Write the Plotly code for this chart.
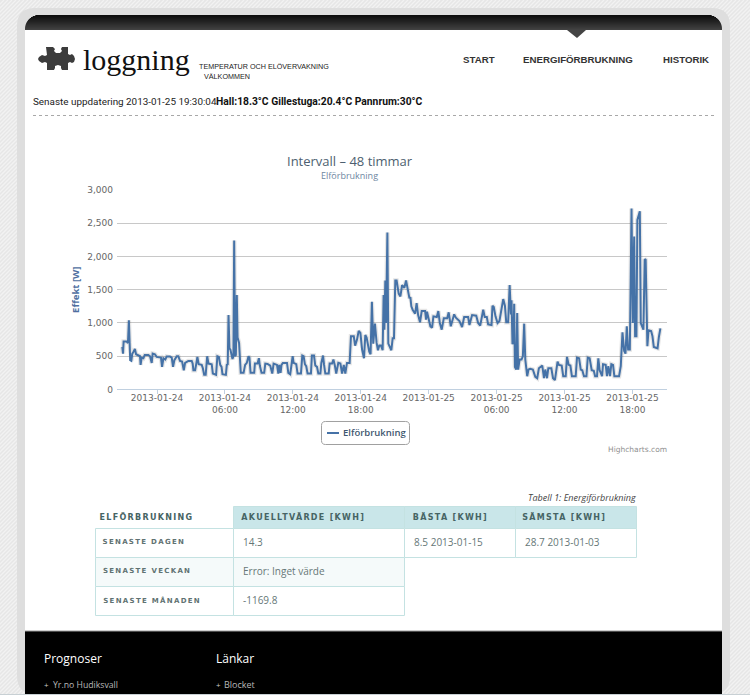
"""
plot.py

Rebuilds the "loggning" energy page: a 48 hour power chart on a page
with header, status line, table and footer drawn around it.
"""

import pandas as pd
import plotly.graph_objects as go

# minutes after 2013-01-23 20:00
MINUTES = [
    56, 60, 63, 79, 86, 91, 95, 98, 104, 109, 114, 123, 129, 141, 150, 153, 159, 168, 175, 194,
    203, 212, 217, 229, 238, 261, 267, 274, 284, 291, 309, 318, 325, 332, 345, 353, 362, 373, 382, 389,
    406, 424, 429, 433, 442, 449, 454, 461, 477, 483, 490, 498, 506, 513, 530, 536, 553, 560, 568, 575,
    582, 587, 605, 610, 615, 619, 624, 629, 635, 640, 645, 649, 654, 658, 663, 667, 675, 679, 684, 699,
    707, 716, 725, 730, 736, 755, 759, 773, 780, 785, 794, 808, 814, 826, 840, 851, 858, 876, 883, 888,
    895, 900, 907, 929, 936, 946, 952, 959, 964, 978, 985, 1003, 1010, 1017, 1024, 1031, 1038, 1056, 1061, 1072,
    1079, 1088, 1095, 1106, 1111, 1120, 1125, 1132, 1150, 1155, 1168, 1175, 1182, 1190, 1201, 1212, 1221, 1230, 1238, 1247,
    1261, 1265, 1268, 1283, 1290, 1300, 1309, 1318, 1327, 1337, 1344, 1351, 1365, 1372, 1379, 1386, 1395, 1404, 1411, 1418,
    1427, 1436, 1441, 1445, 1450, 1454, 1461, 1466, 1475, 1482, 1489, 1496, 1503, 1510, 1521, 1530, 1539, 1551, 1560, 1570,
    1578, 1583, 1588, 1595, 1608, 1616, 1624, 1634, 1643, 1661, 1666, 1671, 1680, 1689, 1698, 1705, 1723, 1731, 1739, 1749,
    1760, 1778, 1786, 1797, 1815, 1824, 1843, 1857, 1868, 1889, 1896, 1910, 1932, 1942, 1953, 1960, 1969, 1977, 1988, 1995,
    2013, 2018, 2025, 2034, 2045, 2055, 2066, 2075, 2084, 2091, 2101, 2109, 2116, 2119, 2124, 2130, 2133, 2137, 2144, 2149,
    2154, 2162, 2172, 2179, 2186, 2192, 2202, 2209, 2218, 2232, 2245, 2255, 2264, 2282, 2291, 2298, 2307, 2314, 2330, 2339,
    2349, 2356, 2363, 2370, 2385, 2393, 2406, 2413, 2422, 2431, 2439, 2459, 2466, 2477, 2486, 2494, 2503, 2516, 2523, 2533,
    2544, 2555, 2562, 2572, 2579, 2586, 2599, 2604, 2618, 2625, 2632, 2641, 2648, 2657, 2664, 2678, 2689, 2698, 2707, 2716,
    2723, 2730, 2737, 2746, 2755, 2762, 2769, 2774, 2781, 2786, 2799, 2804, 2813, 2818, 2825, 2830, 2839, 2845, 2859, 2866,
    2873, 2887, 2893, 2900, 2908,
]

WATTS = [
    640, 540, 720, 720, 700, 1040, 700, 440, 430, 540, 560, 610, 530, 510, 500, 370, 480, 470, 520, 520,
    500, 400, 540, 530, 490, 480, 340, 470, 450, 495, 495, 480, 340, 440, 500, 500, 430, 420, 290, 400,
    430, 430, 390, 290, 290, 400, 490, 380, 370, 320, 220, 220, 500, 390, 380, 240, 220, 500, 490, 370,
    340, 230, 220, 370, 380, 1120, 620, 600, 480, 460, 500, 2240, 500, 520, 1420, 780, 700, 340, 250, 250,
    370, 400, 500, 480, 250, 250, 390, 390, 470, 360, 250, 250, 390, 385, 360, 240, 390, 370, 240, 370,
    250, 370, 400, 400, 250, 230, 390, 500, 400, 380, 240, 240, 510, 500, 380, 350, 240, 240, 510, 510,
    360, 340, 240, 240, 400, 510, 380, 240, 240, 390, 390, 450, 370, 240, 400, 390, 240, 370, 240, 400,
    400, 600, 800, 800, 660, 750, 880, 850, 600, 470, 820, 780, 570, 530, 1320, 690, 990, 700, 590, 660,
    660, 590, 1420, 900, 1640, 1000, 2360, 690, 630, 590, 770, 770, 1640, 1640, 1440, 1400, 1570, 1530, 1640, 1450,
    1370, 1390, 1250, 1200, 1140, 1300, 1120, 1010, 1180, 1180, 1050, 1170, 1050, 950, 930, 1100, 1090, 1180, 1000, 900,
    1070, 1070, 1160, 950, 1130, 1080, 1030, 940, 1090, 1090, 970, 1120, 1110, 1000, 960, 1100, 1200, 1090, 1090, 980,
    970, 1260, 1240, 1100, 1000, 1030, 1200, 1360, 1260, 1010, 1010, 1570, 1130, 1340, 680, 820, 1290, 340, 300, 1150,
    300, 450, 450, 500, 990, 450, 200, 300, 310, 300, 190, 170, 320, 360, 170, 300, 170, 320, 320, 170,
    140, 280, 420, 370, 360, 200, 200, 490, 370, 360, 200, 200, 480, 470, 300, 290, 200, 200, 480, 470,
    290, 280, 200, 200, 470, 290, 200, 380, 370, 200, 350, 200, 380, 370, 200, 200, 200, 350, 860, 580,
    540, 950, 600, 600, 2720, 1000, 2300, 800, 800, 2550, 2680, 1000, 950, 900, 1960, 1950, 650, 890, 880, 800,
    640, 620, 620, 790, 920,
]

X_TICKS = [
    "2013-01-24 00:00", "2013-01-24 06:00", "2013-01-24 12:00", "2013-01-24 18:00",
    "2013-01-25 00:00", "2013-01-25 06:00", "2013-01-25 12:00", "2013-01-25 18:00",
]
X_TICK_LABELS = [
    "2013-01-24", "2013-01-24<br>06:00", "2013-01-24<br>12:00", "2013-01-24<br>18:00",
    "2013-01-25", "2013-01-25<br>06:00", "2013-01-25<br>12:00", "2013-01-25<br>18:00",
]
Y_TICKS = [0, 500, 1000, 1500, 2000, 2500, 3000]

TABLE_HEADERS = ["ELFÖRBRUKNING", "AKUELLTVÄRDE [KWH]", "BÄSTA [KWH]", "SÄMSTA [KWH]"]
ROW_LABELS = ["SENASTE DAGEN", "SENASTE VECKAN", "SENASTE MÅNADEN"]
CURRENT_VALUES = ["14.3", "Error: Inget värde", "-1169.8"]
BEST_VALUES = ["8.5 2013-01-15"]
WORST_VALUES = ["28.7 2013-01-03"]

LINE_COLOR = "#4572A7"
TEXT_FONT = "Open Sans"
CHART_FONT = "DejaVu Sans"
WIDTH = 750
HEIGHT = 695


def px(x):
    return round(x / WIDTH, 5)


def py(y):
    return round(1 - y / HEIGHT, 5)


def rect(x0, y0, x1, y1, fill, line=None):
    return dict(
        type="rect", xref="paper", yref="paper", layer="below",
        x0=px(x0), x1=px(x1), y0=py(y0), y1=py(y1),
        fillcolor=fill, line=dict(color=line or fill, width=1 if line else 0),
    )


def hline(x0, x1, y, color, width=1, dash="solid"):
    return dict(
        type="line", xref="paper", yref="paper", layer="below",
        x0=px(x0), x1=px(x1), y0=py(y), y1=py(y),
        line=dict(color=color, width=width, dash=dash),
    )


def polygon(points, fill):
    path = "M" + " L".join(f"{px(x)} {py(y)}" for x, y in points) + " Z"
    return dict(
        type="path", xref="paper", yref="paper", layer="below", path=path,
        fillcolor=fill, line=dict(width=0),
    )


def rounded(x0, y0, x1, y1, r, fill, line=None):
    path = (
        f"M{px(x0 + r)} {py(y0)} L{px(x1 - r)} {py(y0)} Q{px(x1)} {py(y0)} {px(x1)} {py(y0 + r)} "
        f"L{px(x1)} {py(y1 - r)} Q{px(x1)} {py(y1)} {px(x1 - r)} {py(y1)} "
        f"L{px(x0 + r)} {py(y1)} Q{px(x0)} {py(y1)} {px(x0)} {py(y1 - r)} "
        f"L{px(x0)} {py(y0 + r)} Q{px(x0)} {py(y0)} {px(x0 + r)} {py(y0)} Z"
    )
    return dict(
        type="path", xref="paper", yref="paper", layer="below", path=path,
        fillcolor=fill, line=dict(color=line or fill, width=1 if line else 0),
    )


def label(x, y, text, size, color="#444444", family=TEXT_FONT, anchor="left", **font):
    return dict(
        x=px(x), y=py(y), xref="paper", yref="paper", text=text, showarrow=False,
        xanchor=anchor, yanchor="middle", borderpad=0, borderwidth=0,
        font=dict(size=size, color=color, family=family, **font),
    )


def page_shapes():
    hatch = "".join(
        f"M{px(c)} {py(HEIGHT)} L{px(c + HEIGHT)} {py(0)} " for c in range(-HEIGHT, WIDTH, 4)
    )
    shapes = [
        dict(type="path", xref="paper", yref="paper", layer="below", path=hatch,
             line=dict(color="#f2f2f2", width=1.3)),
        rounded(17, 8, 730, 694, 18, "#dedede"),
        rect(25, 28, 722, 631, "#ffffff"),
    ]

    # header bar, one row per pixel so the gradient follows the round corners
    r = 14
    for row in range(15):
        dy = r - min(row + 0.5, r)
        inset = r - (r * r - dy * dy) ** 0.5
        shade = 12 + int(row * 3.8)
        color = f"rgb({shade},{shade},{shade})"
        shapes.append(hline(25 + inset, 722 - inset, 15.5 + row, color, 1.2))
    shapes.append(polygon([(567, 30), (586, 30), (577, 38)], "#444444"))

    shapes.append(polygon(
        [(46, 47), (53, 47), (55, 49), (54, 51), (56, 53), (60, 53), (62, 51), (61, 49), (62, 47),
         (68, 47), (68, 54), (70, 55), (72, 54), (74, 56), (75, 59), (74, 62), (72, 63), (70, 62),
         (68, 63), (68, 70), (62, 70), (61, 68), (61, 66), (58, 65), (55, 66), (55, 68), (54, 70),
         (47, 70), (47, 63), (45, 62), (42, 63), (39, 61), (38, 59), (39, 57), (42, 55), (45, 56),
         (47, 55)],
        "#3c3c3c",
    ))

    shapes.append(hline(33, 714, 115.5, "#a8a8a8", 1, "dot"))

    # legend box
    shapes.append(rounded(321.5, 421.5, 409.5, 444.5, 4, "#ffffff", "#a0a0a0"))
    shapes.append(hline(327, 339, 433, LINE_COLOR, 2))

    # table cells, half pixel edges keep the borders one pixel wide
    col_edges = [95.5, 233.5, 404.5, 515.5, 636.5]
    row_edges = [506.5, 528.5, 557.5, 586.5, 615.5]
    border = "#c4e2e2"
    for col in (1, 2, 3):
        shapes.append(rect(col_edges[col], row_edges[0], col_edges[col + 1], row_edges[1], "#c9e6e9", border))
    for row in (1, 2, 3):
        fill = "#f5fafa" if row == 2 else "#ffffff"
        last_col = 4 if row == 1 else 2
        for col in range(last_col):
            shapes.append(rect(col_edges[col], row_edges[row], col_edges[col + 1], row_edges[row + 1], fill, border))

    # footer
    shapes.append(rect(25, 631, 722, 694, "#000000"))
    shapes.append(hline(25, 722, 631, "#a0a0a0", 1))
    shapes.append(rect(0, 694, WIDTH, HEIGHT, "#c8d0d4"))
    return shapes


def page_labels():
    nav = dict(family="Liberation Sans", color="#333333", weight="bold")
    row_font = dict(family=CHART_FONT, color="#5f7272", weight="bold")
    head_font = dict(family=CHART_FONT, color="#466464", weight="bold")
    cell_font = dict(family=TEXT_FONT, color="#667777")
    head_centers = [146, 303, 450, 565]
    row_centers = [144, 147, 151.5]
    row_mid = [542, 571, 600]

    labels = [
        label(83, 60, "loggning", 30, color="#111111", family="Liberation Serif"),
        label(199, 67, "TEMPERATUR OCH ELÖVERVAKNING", 7.2, color="#222222", family="Liberation Sans"),
        label(204, 77, "VÄLKOMMEN", 7.2, color="#222222", family="Liberation Sans"),
        label(463, 60, "START", 9.7, **nav),
        label(523, 60, "ENERGIFÖRBRUKNING", 9.7, **nav),
        label(663, 60, "HISTORIK", 9.7, **nav),
        label(33, 102, "Senaste uppdatering 2013-01-25 19:30:04", 9.9, color="#222222", family="Roboto"),
        label(216, 102, "Hall:18.3°C Gillestuga:20.4°C Pannrum:30°C", 10.3, color="#111111", family="Roboto", weight="bold"),
        label(349.5, 161, "Intervall – 48 timmar", 13, color="#4d5f70", anchor="center"),
        label(349.5, 175, "Elförbrukning", 9, color="#6D869F", anchor="center"),
        label(343, 433, "Elförbrukning", 9.5, color="#3E576F", weight=600),
        label(667, 450, "Highcharts.com", 7.5, color="#909090", family=CHART_FONT, anchor="right"),
        label(636, 497, "Tabell 1: Energiförbrukning", 9, color="#444444", anchor="right", style="italic"),
        label(44, 659, "Prognoser", 12, color="#ffffff"),
        label(216, 659, "Länkar", 12, color="#ffffff"),
        label(44, 685, "+", 8, color="#cccccc"),
        label(53, 685, "Yr.no Hudiksvall", 8.7, color="#b8b8b8"),
        label(216, 685, "+", 8, color="#cccccc"),
        label(224, 685, "Blocket", 9, color="#b8b8b8"),
    ]
    for center, text in zip(head_centers, TABLE_HEADERS):
        labels.append(label(center, 517, text, 8, anchor="center", **head_font))
    for center, mid, text in zip(row_centers, row_mid, ROW_LABELS):
        labels.append(label(center, mid, text, 7, anchor="center", **row_font))
    for mid, text in zip(row_mid, CURRENT_VALUES):
        labels.append(label(243, mid, text, 10, **cell_font))
    labels.append(label(414, row_mid[0], BEST_VALUES[0], 10, **cell_font))
    labels.append(label(525, row_mid[0], WORST_VALUES[0], 10, **cell_font))
    return labels


times = pd.Timestamp("2013-01-23 20:00") + pd.to_timedelta(MINUTES, unit="min")

fig = go.Figure()
fig.add_trace(go.Scatter(
    x=times, y=WATTS, mode="lines", hoverinfo="skip", showlegend=False,
    line=dict(color="rgba(0,0,0,0.10)", width=4.5),
))
fig.add_trace(go.Scatter(
    x=times, y=WATTS, mode="lines", name="Elförbrukning", showlegend=False,
    line=dict(color=LINE_COLOR, width=2),
))

fig.update_xaxes(
    range=["2013-01-23 20:28", "2013-01-25 21:03"],
    domain=[px(117), px(667)],
    automargin=False,
    tickmode="array", tickvals=X_TICKS, ticktext=X_TICK_LABELS,
    ticks="outside", ticklen=4, tickcolor="#C0D0E0", ticklabelstandoff=-4,
    showline=True, linecolor="#C0D0E0", showgrid=False, zeroline=False,
    tickfont=dict(family=CHART_FONT, size=9, color="#666666"),
)
fig.update_yaxes(
    range=[0, 3000],
    domain=[py(389.5), py(190)],
    automargin=False,
    tickmode="array", tickvals=Y_TICKS, tickformat=",d", ticklabelstandoff=3,
    gridcolor="#C8C8C8", gridwidth=1, zeroline=False, showline=False,
    tickfont=dict(family=CHART_FONT, size=9, color="#666666"),
    title=dict(
        text="Effekt [W]", standoff=5,
        font=dict(family=TEXT_FONT, size=9.5, color="#4f6f9f", weight="bold"),
    ),
)

fig.update_layout(
    width=WIDTH,
    height=HEIGHT,
    margin=dict(l=0, r=0, t=0, b=0, autoexpand=False),
    paper_bgcolor="#e6e6e6",
    plot_bgcolor="rgba(0,0,0,0)",
    shapes=page_shapes(),
    annotations=page_labels(),
)

spaced = TABLE_HEADERS + ROW_LABELS
post_script = """
document.body.style.margin = '0';
var spaced = %s;
document.querySelectorAll('.annotation-text').forEach(function (el) {
    if (spaced.indexOf(el.textContent) >= 0) { el.style.letterSpacing = '1.3px'; }
});
""" % spaced

fig.write_html("out.html", post_script=post_script, config=dict(displayModeBar=False))
